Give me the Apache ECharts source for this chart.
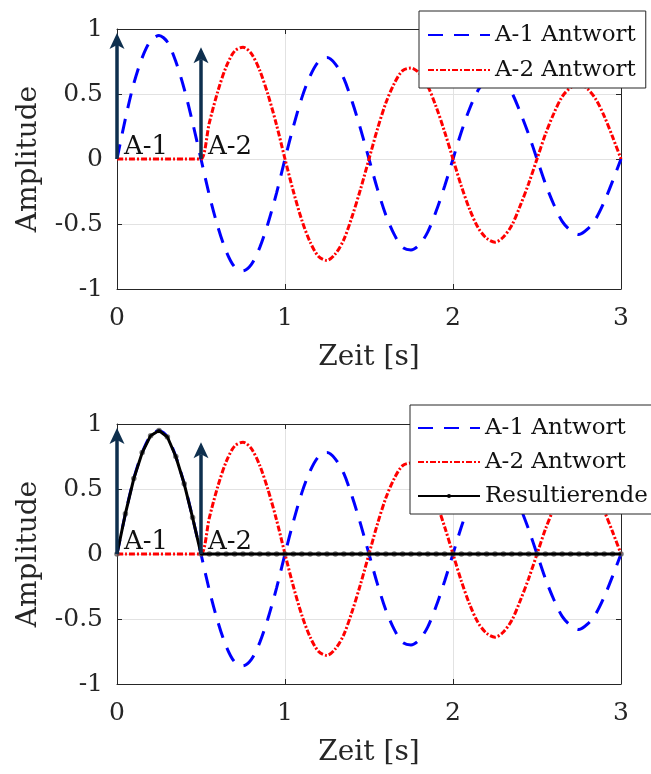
<!DOCTYPE html>
<html>
<head>
<meta charset="utf-8">
<script src="https://cdn.jsdelivr.net/npm/echarts@6/dist/echarts.min.js"></script>
<style>
  html, body { margin: 0; padding: 0; background: #fff; }
  #chart { width: 651px; height: 774px; }
</style>
</head>
<body>
<div id="chart"></div>
<script>
// Sample times [s]
const zeit = [
  0.00, 0.05, 0.10, 0.15, 0.20, 0.25, 0.30, 0.35, 0.40, 0.45,
  0.50, 0.55, 0.60, 0.65, 0.70, 0.75, 0.80, 0.85, 0.90, 0.95,
  1.00, 1.05, 1.10, 1.15, 1.20, 1.25, 1.30, 1.35, 1.40, 1.45,
  1.50, 1.55, 1.60, 1.65, 1.70, 1.75, 1.80, 1.85, 1.90, 1.95,
  2.00, 2.05, 2.10, 2.15, 2.20, 2.25, 2.30, 2.35, 2.40, 2.45,
  2.50, 2.55, 2.60, 2.65, 2.70, 2.75, 2.80, 2.85, 2.90, 2.95,
  3.00
];

// Response to impulse A-1
const antwortA1 = [
   0.00,  0.31,  0.58,  0.78,  0.91,  0.95,  0.90,  0.75,  0.54,  0.28,
   0.00, -0.28, -0.52, -0.71, -0.83, -0.86, -0.81, -0.68, -0.49, -0.26,
   0.00,  0.25,  0.47,  0.64,  0.75,  0.78,  0.73,  0.62,  0.44,  0.23,
   0.00, -0.23, -0.43, -0.58, -0.68, -0.70, -0.66, -0.56, -0.40, -0.21,
   0.00,  0.21,  0.39,  0.53,  0.61,  0.64,  0.60,  0.51,  0.36,  0.19,
   0.00, -0.19, -0.35, -0.48, -0.55, -0.58, -0.54, -0.46, -0.33, -0.17,
   0.00
];

// Response to impulse A-2 (applied at t = 0.5 s)
const antwortA2 = [
   0.00,  0.00,  0.00,  0.00,  0.00,  0.00,  0.00,  0.00,  0.00,  0.00,
   0.00,  0.28,  0.52,  0.71,  0.83,  0.86,  0.81,  0.68,  0.49,  0.26,
   0.00, -0.25, -0.47, -0.64, -0.75, -0.78, -0.73, -0.62, -0.44, -0.23,
   0.00,  0.23,  0.43,  0.58,  0.68,  0.70,  0.66,  0.56,  0.40,  0.21,
   0.00, -0.21, -0.39, -0.53, -0.61, -0.64, -0.60, -0.51, -0.36, -0.19,
   0.00,  0.19,  0.35,  0.48,  0.55,  0.58,  0.54,  0.46,  0.33,  0.17,
   0.00
];

// Superposition of both responses
const resultierende = [
   0.00,  0.31,  0.58,  0.78,  0.91,  0.95,  0.90,  0.75,  0.54,  0.28,
   0.00,  0.00,  0.00,  0.00,  0.00,  0.00,  0.00,  0.00,  0.00,  0.00,
   0.00,  0.00,  0.00,  0.00,  0.00,  0.00,  0.00,  0.00,  0.00,  0.00,
   0.00,  0.00,  0.00,  0.00,  0.00,  0.00,  0.00,  0.00,  0.00,  0.00,
   0.00,  0.00,  0.00,  0.00,  0.00,  0.00,  0.00,  0.00,  0.00,  0.00,
   0.00,  0.00,  0.00,  0.00,  0.00,  0.00,  0.00,  0.00,  0.00,  0.00,
   0.00
];

// Impulses: position, arrow height, label
const impulsZeit = [0, 0.5];
const impulsHoehe = [0.97, 0.86];
const impulsLabels = ['A-1', 'A-2'];

// Axis ticks
const xTicks = [0, 1, 2, 3];
const yTicks = [-1, -0.5, 0, 0.5, 1];

const NAME_A1 = 'A-1 Antwort';
const NAME_A2 = 'A-2 Antwort';
const NAME_RES = 'Resultierende';

const FONT = 'DejaVu Serif';
const AXIS_COLOR = '#262626';
const GRID_COLOR = '#e2e2e2';
const ARROW_COLOR = '#0e2f4e';

const pairs = (ys) => zeit.map((t, i) => [t, ys[i]]);

function xAxes(gi) {
  return [
    {
      type: 'value', gridIndex: gi, position: 'bottom',
      min: xTicks[0], max: xTicks[xTicks.length - 1], interval: xTicks[1] - xTicks[0],
      name: 'Zeit [s]', nameLocation: 'middle', nameGap: 55,
      nameTextStyle: { fontSize: 28, color: AXIS_COLOR, fontFamily: FONT },
      axisLine: { show: true, onZero: false, lineStyle: { color: AXIS_COLOR, width: 1 } },
      axisTick: { show: true, inside: true, length: 5, lineStyle: { color: AXIS_COLOR } },
      axisLabel: { fontSize: 25, color: AXIS_COLOR, margin: 17, fontFamily: FONT },
      splitLine: { show: true, lineStyle: { color: GRID_COLOR, width: 1 } }
    },
    {
      type: 'value', gridIndex: gi, position: 'top',
      min: xTicks[0], max: xTicks[xTicks.length - 1], interval: xTicks[1] - xTicks[0],
      axisLine: { show: true, onZero: false, lineStyle: { color: AXIS_COLOR, width: 1 } },
      axisTick: { show: true, inside: true, length: 5, lineStyle: { color: AXIS_COLOR } },
      axisLabel: { show: false },
      splitLine: { show: false }
    }
  ];
}

function yAxes(gi) {
  return [
    {
      type: 'value', gridIndex: gi, position: 'left',
      min: yTicks[0], max: yTicks[yTicks.length - 1], interval: yTicks[1] - yTicks[0],
      name: 'Amplitude', nameLocation: 'middle', nameGap: 74, nameRotate: 90,
      nameTextStyle: { fontSize: 28, color: AXIS_COLOR, fontFamily: FONT },
      axisLine: { show: true, onZero: false, lineStyle: { color: AXIS_COLOR, width: 1 } },
      axisTick: { show: true, inside: true, length: 5, lineStyle: { color: AXIS_COLOR } },
      axisLabel: { fontSize: 25, color: AXIS_COLOR, margin: 14, fontFamily: FONT },
      splitLine: { show: true, lineStyle: { color: GRID_COLOR, width: 1 } }
    },
    {
      type: 'value', gridIndex: gi, position: 'right',
      min: yTicks[0], max: yTicks[yTicks.length - 1], interval: yTicks[1] - yTicks[0],
      axisLine: { show: true, onZero: false, lineStyle: { color: AXIS_COLOR, width: 1 } },
      axisTick: { show: true, inside: true, length: 5, lineStyle: { color: AXIS_COLOR } },
      axisLabel: { show: false },
      splitLine: { show: false }
    }
  ];
}

// Vertical impulse arrow with its label
function renderImpulse(params, api) {
  const x = api.value(0);
  const h = api.value(1);
  const base = api.coord([x, 0]);
  const tip = api.coord([x, h]);
  const headL = 16, headW = 7.5, notch = 4;
  return {
    type: 'group',
    children: [
      {
        type: 'line',
        shape: { x1: base[0], y1: base[1], x2: tip[0], y2: tip[1] + headL - notch },
        style: { stroke: ARROW_COLOR, lineWidth: 3.5 }
      },
      {
        type: 'polygon',
        shape: { points: [
          [tip[0], tip[1]],
          [tip[0] + headW, tip[1] + headL],
          [tip[0], tip[1] + headL - notch],
          [tip[0] - headW, tip[1] + headL]
        ] },
        style: { fill: ARROW_COLOR }
      },
      {
        type: 'text',
        x: base[0] + 7, y: base[1] + 1,
        style: {
          text: impulsLabels[params.dataIndex],
          fontSize: 26, fontFamily: FONT, fill: '#111',
          align: 'left', verticalAlign: 'bottom'
        }
      }
    ]
  };
}

function lineA1(gi) {
  return {
    name: NAME_A1, type: 'line', xAxisIndex: gi * 2, yAxisIndex: gi * 2,
    data: pairs(antwortA1), showSymbol: false, symbol: 'none', smooth: 0.3,
    lineStyle: { color: '#0000ff', width: 3, type: [15, 11] },
    itemStyle: { color: '#0000ff' }, z: 2
  };
}
function lineA2(gi) {
  return {
    name: NAME_A2, type: 'line', xAxisIndex: gi * 2, yAxisIndex: gi * 2,
    data: pairs(antwortA2), showSymbol: false, symbol: 'none', smooth: 0.3,
    lineStyle: { color: '#ff0000', width: 3, type: [6, 2, 2, 2] },
    itemStyle: { color: '#ff0000' }, z: 3
  };
}
function impulses(gi) {
  return {
    type: 'custom', xAxisIndex: gi * 2, yAxisIndex: gi * 2,
    renderItem: renderImpulse,
    data: impulsZeit.map((t, i) => [t, impulsHoehe[i]]),
    z: 10, silent: true
  };
}

const legendText = { fontSize: 23, color: '#111', fontFamily: FONT, lineHeight: 30 };
// Dashed responses show only their line in the legend
const noMarker = { opacity: 0 };

const option = {
  animation: false,
  backgroundColor: '#ffffff',
  grid: [
    { left: 117, right: 30, top: 29, height: 260 },
    { left: 117, right: 30, top: 424, height: 260 }
  ],
  xAxis: [...xAxes(0), ...xAxes(1)],
  yAxis: [...yAxes(0), ...yAxes(1)],
  legend: [
    {
      data: [{ name: NAME_A1, itemStyle: noMarker }, { name: NAME_A2, itemStyle: noMarker }],
      orient: 'vertical',
      left: 419, top: 11, padding: [9, 10, 3, 8],
      itemWidth: 62, itemHeight: 5, itemGap: 5, itemTextGap: 5,
      backgroundColor: '#fff', borderColor: AXIS_COLOR, borderWidth: 1, borderRadius: 0,
      textStyle: legendText, z: 20
    },
    {
      data: [{ name: NAME_A1, itemStyle: noMarker }, { name: NAME_A2, itemStyle: noMarker }, NAME_RES],
      orient: 'vertical',
      left: 410, top: 405, padding: [8, 6, 3, 7],
      itemWidth: 62, itemHeight: 5, itemGap: 4, itemTextGap: 5,
      backgroundColor: '#fff', borderColor: AXIS_COLOR, borderWidth: 1, borderRadius: 0,
      textStyle: legendText, z: 20
    }
  ],
  series: [
    lineA1(0), lineA2(0), impulses(0),
    lineA1(1), lineA2(1),
    {
      // sample markers sit just beneath the resultant line
      type: 'scatter', xAxisIndex: 2, yAxisIndex: 2,
      data: pairs(resultierende), symbol: 'circle', symbolSize: 5.5,
      itemStyle: { color: '#5a5a5a' }, z: 4, silent: true
    },
    {
      name: NAME_RES, type: 'line', xAxisIndex: 2, yAxisIndex: 2,
      data: pairs(resultierende), showSymbol: false,
      symbol: 'circle', symbolSize: 5,
      lineStyle: { color: '#000', width: 3 },
      itemStyle: { color: '#000' }, z: 5
    },
    impulses(1)
  ]
};

const chart = echarts.init(document.getElementById('chart'), null, { renderer: 'canvas' });
chart.setOption(option);
</script>
</body>
</html>
